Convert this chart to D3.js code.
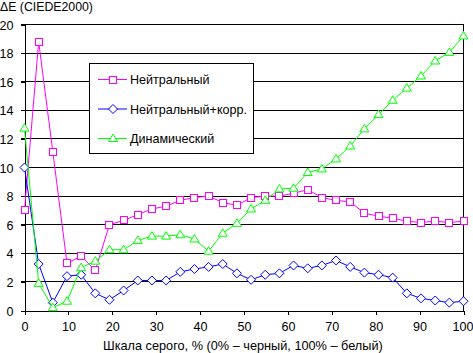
<!DOCTYPE html>
<html>
<head>
<meta charset="utf-8">
<script src="https://cdn.jsdelivr.net/npm/d3@7"></script>
<style>
  body { margin: 0; background: #fff; }
  text { font-family: Arial, "Liberation Sans", sans-serif; fill: #000; }
</style>
</head>
<body>
<div id="chart"></div>
<script>
// gray scale levels, 32 steps from 0 to 100 %
const grayLevels = d3.range(32).map(i => i * 100 / 31);

const neutral = [7.0, 18.8, 11.1, 3.3, 3.8, 2.8, 6.0, 6.3, 6.7, 7.1, 7.3, 7.7, 7.9, 8.0, 7.55, 7.35,
  7.9, 8.0, 8.0, 8.2, 8.45, 7.9, 7.7, 7.6, 6.8, 6.6, 6.45, 6.25, 6.15, 6.25, 6.15, 6.25];
const neutralCorr = [10.0, 3.25, 0.55, 2.4, 2.5, 1.2, 0.75, 1.4, 2.1, 2.1, 2.1, 2.7, 2.9, 3.05, 3.25, 2.6,
  2.15, 2.5, 2.6, 3.15, 2.95, 3.15, 3.5, 3.05, 2.65, 2.5, 2.3, 1.2, 0.85, 0.7, 0.55, 0.65];
const dynamic = [12.75, 1.9, 0.2, 0.65, 3.0, 3.45, 4.25, 4.25, 4.9, 5.2, 5.2, 5.3, 5.0, 4.15, 5.4, 6.1,
  7.1, 7.7, 8.5, 8.55, 9.65, 9.9, 10.6, 11.5, 12.7, 13.7, 14.7, 15.55, 16.4, 17.45, 18.05, 19.2];

const seriesNames = ["Нейтральный", "Нейтральный+корр.", "Динамический"];
const seriesColors = ["#ff00ff", "#0000ff", "#00ff00"];
const seriesMarkers = ["square", "diamond", "triangle"];
const seriesValues = [neutral, neutralCorr, dynamic];

const xTicks = [0, 10, 20, 30, 40, 50, 60, 70, 80, 90, 100];
const yTicks = [0, 2, 4, 6, 8, 10, 12, 14, 16, 18, 20];
const yTitle = "ΔE (CIEDE2000)";
const xTitle = "Шкала серого, % (0% – черный, 100% – белый)";

const width = 473, height = 353;
const mLeft = 24.5, mRight = 463.5, mTop = 24.5, mBottom = 310.5;

const svg = d3.select("#chart").append("svg")
    .attr("width", width)
    .attr("height", height);

// scale font so a text gets the width it has in the picture
function fitWidth(sel, base, target) {
    sel.style("font-size", base + "px");
    const w = sel.node().getComputedTextLength();
    sel.style("font-size", (base * target / w).toFixed(2) + "px");
}

const x = d3.scaleLinear().domain([0, 100]).range([mLeft, mRight]);
const y = d3.scaleLinear().domain([0, 20]).range([mBottom, mTop]);

// grid lines
svg.append("g")
    .selectAll("line")
    .data(yTicks.filter(d => d > 0))
    .join("line")
    .attr("x1", mLeft - 4).attr("x2", mRight)
    .attr("y1", d => y(d)).attr("y2", d => y(d))
    .attr("stroke", "#000")
    .attr("shape-rendering", "crispEdges");

// y axis
const yAxis = svg.append("g")
    .attr("transform", `translate(${mLeft},0)`)
    .call(d3.axisLeft(y).tickValues(yTicks).tickSize(4).tickPadding(7).tickSizeOuter(0));
yAxis.selectAll("line, path").attr("stroke", "#000").attr("shape-rendering", "crispEdges");

// x axis
const xAxis = svg.append("g")
    .attr("transform", `translate(0,${mBottom})`)
    .call(d3.axisBottom(x).tickValues(xTicks).tickSize(4).tickPadding(8).tickSizeOuter(0));
xAxis.selectAll("line, path").attr("stroke", "#000").attr("shape-rendering", "crispEdges");

// tick labels: "100" is about 21px wide in the picture
const probe = xAxis.selectAll("text").filter(d => d === 100);
fitWidth(probe, 13, 21);
const tickSize = probe.style("font-size");
xAxis.selectAll("text").style("font-size", tickSize);
yAxis.selectAll("text").style("font-size", tickSize).attr("dy", "0.36em");
probe.attr("dx", -1);

// right border
svg.append("line")
    .attr("x1", mRight).attr("x2", mRight)
    .attr("y1", mTop).attr("y2", mBottom)
    .attr("stroke", "#000")
    .attr("shape-rendering", "crispEdges");

const yT = svg.append("text")
    .attr("x", 0).attr("y", 11)
    .text(yTitle);
fitWidth(yT, 12.5, 93);

const xT = svg.append("text")
    .attr("x", 103).attr("y", 350)
    .text(xTitle);
fitWidth(xT, 12.5, 280);

function drawMarker(g, type, cx, cy, color) {
    if (type === "square") {
        g.append("rect")
            .attr("x", Math.round(cx) - 3.5).attr("y", Math.round(cy) - 3.5)
            .attr("width", 7).attr("height", 7)
            .attr("fill", "#fff").attr("stroke", color)
            .attr("shape-rendering", "crispEdges");
    } else if (type === "diamond") {
        g.append("path")
            .attr("d", `M${cx},${cy - 4.5}L${cx + 4.5},${cy}L${cx},${cy + 4.5}L${cx - 4.5},${cy}Z`)
            .attr("fill", "#fff").attr("stroke", color);
    } else {
        g.append("path")
            .attr("d", `M${cx},${cy - 4.5}L${cx + 4.5},${cy + 3}L${cx - 4.5},${cy + 3}Z`)
            .attr("fill", "#fff").attr("stroke", color);
    }
}

const line = d3.line()
    .x((d, i) => x(grayLevels[i]))
    .y(d => y(d));

seriesValues.forEach((vals, s) => {
    const g = svg.append("g");
    g.append("path")
        .datum(vals)
        .attr("d", line)
        .attr("fill", "none")
        .attr("stroke", seriesColors[s])
        .attr("stroke-width", 1);
    vals.forEach((v, i) => drawMarker(g, seriesMarkers[s], x(grayLevels[i]), y(v), seriesColors[s]));
});

// legend
const legend = svg.append("g");
legend.append("rect")
    .attr("x", 89.5).attr("y", 63.5)
    .attr("width", 164).attr("height", 90)
    .attr("fill", "#fff").attr("stroke", "#000")
    .attr("shape-rendering", "crispEdges");

const legendTexts = [];
seriesNames.forEach((name, s) => {
    const ly = 79.5 + s * 29.5;
    legend.append("line")
        .attr("x1", 98).attr("x2", 127)
        .attr("y1", ly).attr("y2", ly)
        .attr("stroke", seriesColors[s]);
    drawMarker(legend, seriesMarkers[s], 113, ly, seriesColors[s]);
    legendTexts.push(legend.append("text")
        .attr("x", 130).attr("y", ly)
        .attr("dy", "0.36em")
        .text(name));
});
fitWidth(legendTexts[1], 12.5, 117);
legendTexts.forEach(t => t.style("font-size", legendTexts[1].style("font-size")));
</script>
</body>
</html>
